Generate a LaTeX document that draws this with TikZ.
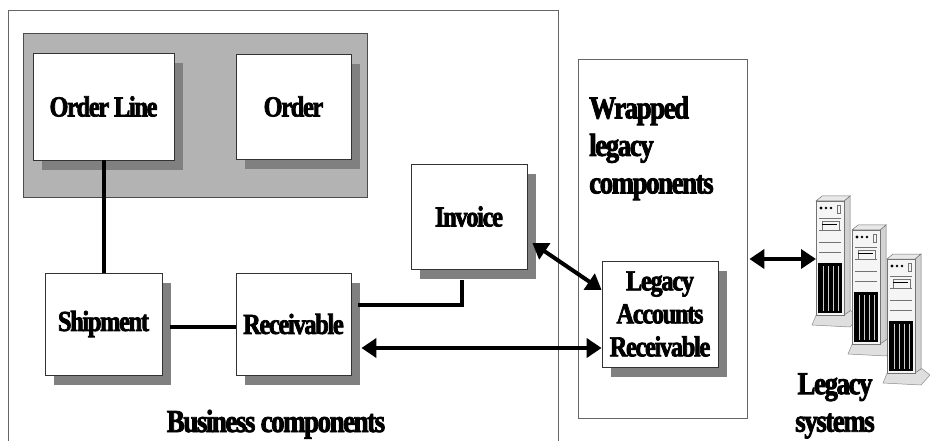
\documentclass[tikz,border=0pt]{standalone}
\usepackage{fontspec}
\setmainfont{Liberation Serif}[FakeStretch=0.84, LetterSpace=-4.5, FakeBold=2.5]
\usetikzlibrary{arrows.meta,shadows}
\definecolor{groupgray}{RGB}{179,179,179}
\definecolor{shadowgray}{RGB}{128,128,128}
\newcommand\compfont{\fontsize{29}{33}\selectfont\bfseries}
\newcommand\grpfont{\fontsize{32}{37.5}\selectfont\bfseries}
\tikzset{
  comp/.style={draw=black!80, fill=white, line width=0.8pt, inner sep=2pt, font=\compfont,
    drop shadow={shadow xshift=9pt, shadow yshift=-10pt, fill=shadowgray, opacity=1}},
  frame/.style={draw=black!60, line width=0.8pt},
  link/.style={line width=4pt},
  twoway/.style={line width=4pt, {Triangle[length=15pt,width=19pt]}-{Triangle[length=15pt,width=19pt]}},
  towerline/.style={draw=black!55, line width=0.5pt}
}
\begin{document}
\begin{tikzpicture}[x=1pt,y=-1pt]
\useasboundingbox (0,0) rectangle (930,441);
% frames
\draw[frame] (8,470) -- (8,10) -- (558,10) -- (558,470);
\fill[groupgray, draw=black!70, line width=0.8pt] (23,33) rectangle (367,197);
\node[frame, minimum width=169pt, minimum height=359pt] (wrapped) at (662.5,238.5) {};
\node[font=\grpfont, align=left, anchor=north west, inner sep=0pt] (wrappedlbl) at (589,96)
  {Wrapped\\legacy\\components};
% components
\node[comp, minimum width=141pt, minimum height=107pt] (orderline) at (103.5,106.5) {Order Line};
\node[comp, minimum width=115pt, minimum height=105pt] (order) at (293.5,106.5) {Order};
\node[comp, minimum width=117pt, minimum height=102pt] (shipment) at (103.5,324) {Shipment};
\node[comp, minimum width=115pt, minimum height=102pt] (receivable) at (293.5,324) {Receivable};
\node[comp, minimum width=116pt, minimum height=105pt] (invoice) at (469,216.5) {Invoice};
\node[comp, minimum width=116pt, minimum height=106pt, align=center] (legacy) at (660,314)
  {Legacy\\Accounts\\Receivable};
\node[font=\grpfont, anchor=base, inner sep=0pt] (bizlbl) at (276,432) {Business components};
\node[font=\grpfont, align=center, anchor=north, inner sep=0pt] (syslbl) at (835,373) {Legacy\\systems};
% servers
\foreach \sx/\sy/\k in {816/201/1, 852/230/2, 887/259/3}{
  \begin{scope}[shift={(\sx,\sy)}]
  \fill[gray!25, draw=black!45, line width=0.5pt] (-4,124) -- (1,112) -- (34,109)
    -- (43,116) -- (34,126) -- cycle;
  \fill[gray!35, towerline] (28,0) -- (34,-5) -- (34,110) -- (28,114) -- cycle;
  \fill[gray!18, towerline] (0,0) -- (6,-5) -- (34,-5) -- (28,0) -- cycle;
  \fill[gray!8, towerline] (0,0) rectangle (28,114);
  \fill[black] (5,7) circle (1.6pt) (10,7) circle (1.4pt) (15,7) circle (1.4pt);
  \draw[towerline] (21,4) rectangle (24,12);
  \foreach \bay in {17,29,41,51}{ \draw[towerline] (3,\bay) -- (25,\bay); }
  \draw[towerline] (6,20) rectangle (23,29);
  \draw[black, line width=0.8pt] (6,23) -- (21,23);
  \fill[black] (2,62) rectangle (26,112);
  \foreach \vent in {7,12,17,22}{ \draw[white!80!black, line width=0.5pt] (\vent,65) -- (\vent,110); }
  \coordinate (tower\k) at (0,58);
  \end{scope}
}
% connectors
\draw[link] (orderline.south) -- (shipment.north);
\draw[link] ([xshift=8pt,yshift=-3pt]shipment.east) -- ([yshift=-3pt]receivable.west);
\coordinate (rcvtop) at ([xshift=7pt,yshift=19pt]receivable.east);
\coordinate (invfoot) at ([xshift=-7pt,yshift=-11pt]invoice.south);
\draw[link] (rcvtop) -| (invfoot);
\draw[twoway] ([xshift=5pt,yshift=-26.5pt]invoice.east) -- ([yshift=24pt]legacy.west);
\coordinate (rcvarrow) at ([xshift=10pt,yshift=-24pt]receivable.east);
\draw[twoway] (rcvarrow) -- (rcvarrow -| legacy.west);
\coordinate (wraparrow) at ([xshift=2pt,yshift=-20.5pt]wrapped.east);
\draw[twoway] (wraparrow) -- (wraparrow -| tower1);
\end{tikzpicture}
\end{document}
